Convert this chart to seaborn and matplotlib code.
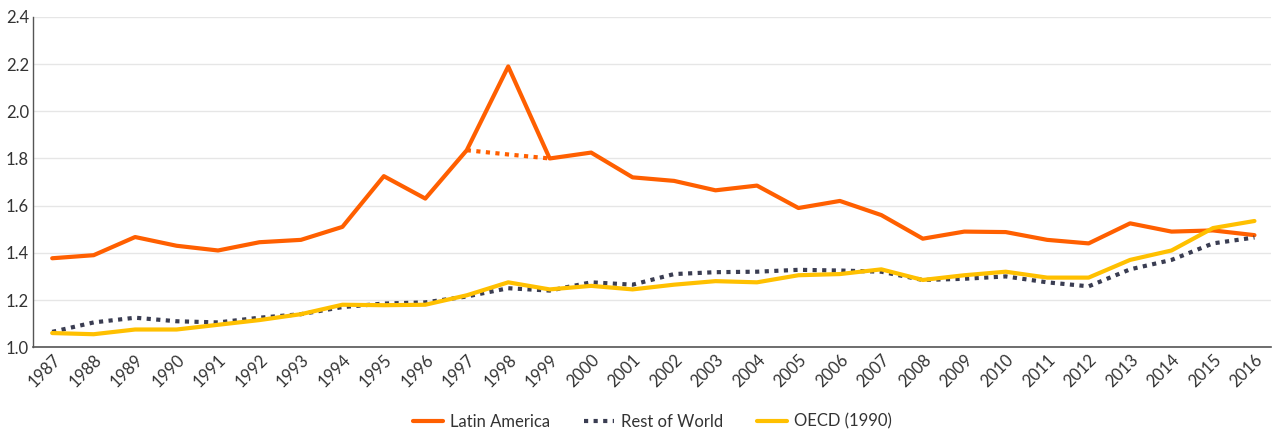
import matplotlib
matplotlib.use("Agg")
import matplotlib.pyplot as plt
import seaborn as sns
import pandas as pd

years = list(range(1987, 2017))

latin_america = [1.377, 1.39, 1.467, 1.43, 1.41, 1.445, 1.455, 1.51, 1.725, 1.63,
                 1.835, 2.19, 1.80, 1.825, 1.72, 1.705, 1.665, 1.685, 1.59, 1.62,
                 1.56, 1.46, 1.49, 1.488, 1.455, 1.44, 1.525, 1.49, 1.495, 1.475]
# dotted bridge over the 1998 spike
latin_bridge_years = [1997, 1998, 1999]
latin_bridge = [1.835, 1.817, 1.80]

rest_of_world = [1.065, 1.105, 1.125, 1.11, 1.105, 1.125, 1.14, 1.17, 1.185, 1.19,
                 1.215, 1.25, 1.24, 1.275, 1.265, 1.31, 1.318, 1.32, 1.328, 1.325,
                 1.32, 1.285, 1.29, 1.30, 1.275, 1.258, 1.33, 1.37, 1.44, 1.465]

oecd = [1.06, 1.055, 1.075, 1.075, 1.095, 1.115, 1.14, 1.18, 1.178, 1.18,
        1.22, 1.275, 1.245, 1.26, 1.245, 1.265, 1.28, 1.275, 1.305, 1.31,
        1.33, 1.285, 1.305, 1.32, 1.295, 1.295, 1.37, 1.41, 1.505, 1.535]

ORANGE = "#FF5F00"
NAVY = "#3A3D52"
YELLOW = "#FFC000"

sns.set_theme(style="white")
plt.rcParams["font.family"] = ["Lato", "DejaVu Sans"]

fig = plt.figure(figsize=(12.74, 4.34), dpi=100)
ax = fig.add_axes([0.026, 0.2, 0.972, 0.761])

df = pd.DataFrame({"Year": years, "Latin America": latin_america,
                   "Rest of World": rest_of_world, "OECD (1990)": oecd})
bridge = pd.DataFrame({"Year": latin_bridge_years, "Value": latin_bridge})

lw = 3.0
sns.lineplot(data=df, x="Year", y="Latin America", ax=ax, color=ORANGE,
             linewidth=lw, label="Latin America")
sns.lineplot(data=bridge, x="Year", y="Value", ax=ax, color=ORANGE,
             linewidth=lw, linestyle=(0, (1, 1.3)), legend=False)
sns.lineplot(data=df, x="Year", y="Rest of World", ax=ax, color=NAVY,
             linewidth=lw, linestyle=(0, (1, 1.3)), label="Rest of World")
sns.lineplot(data=df, x="Year", y="OECD (1990)", ax=ax, color=YELLOW,
             linewidth=lw, label="OECD (1990)")

ax.set_xlim(1986.54, 2016.41)
ax.set_ylim(1.0, 2.4)
yticks = [1.0, 1.2, 1.4, 1.6, 1.8, 2.0, 2.2, 2.4]
ax.set_yticks(yticks)
ax.set_yticklabels([f"{v:.1f}" for v in yticks])
ax.set_xticks(years)
ax.set_xticklabels([str(y) for y in years], rotation=45, ha="right",
                   rotation_mode="anchor")
ax.set_xlabel("")
ax.set_ylabel("")

ax.grid(axis="y", color="#E6E6E6", linewidth=1)
ax.set_axisbelow(True)
for side in ["top", "right"]:
    ax.spines[side].set_visible(False)
ax.spines["left"].set_color("#555555")
ax.spines["bottom"].set_color("#555555")
ax.spines["left"].set_linewidth(1)
ax.spines["bottom"].set_linewidth(1.2)

ax.tick_params(axis="y", labelsize=12, colors="#333333", length=0, pad=3)
ax.tick_params(axis="x", labelsize=12, colors="#333333", length=0, pad=3)

ax.legend(loc="center", bbox_to_anchor=(0.5, -0.225), ncol=3, frameon=False,
          fontsize=12, handlelength=1.8, columnspacing=2.0, handletextpad=0.45,
          labelcolor="#333333")

fig.savefig("out.png", dpi=100)
